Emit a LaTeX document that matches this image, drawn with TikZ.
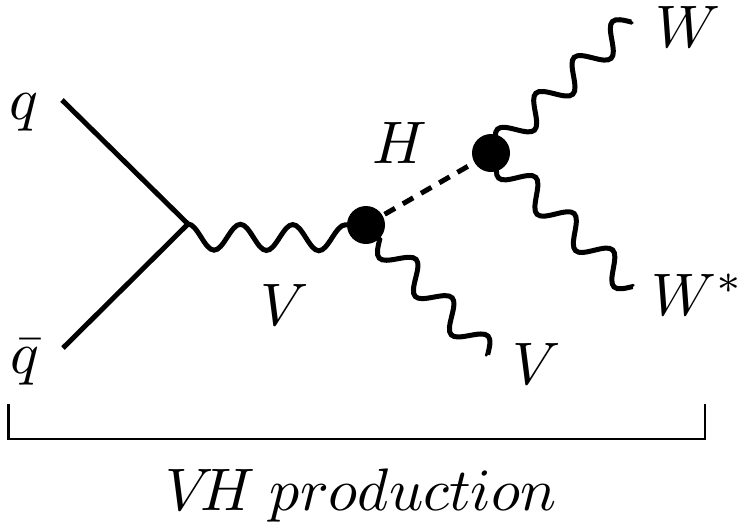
\documentclass[tikz,border=0pt]{standalone}
\usetikzlibrary{decorations}
% half-wave sine decoration: segment length = half wavelength, first lobe to the right of travel
\pgfdeclaredecoration{phothalf}{rgt}{
  \state{rgt}[width=\pgfdecorationsegmentlength, next state=lft]{
    \pgfpathcurveto{\pgfqpoint{0.1758\pgfdecorationsegmentlength}{-0.5523\pgfdecorationsegmentamplitude}}{\pgfqpoint{0.3242\pgfdecorationsegmentlength}{-\pgfdecorationsegmentamplitude}}{\pgfqpoint{0.5\pgfdecorationsegmentlength}{-\pgfdecorationsegmentamplitude}}
    \pgfpathcurveto{\pgfqpoint{0.6758\pgfdecorationsegmentlength}{-\pgfdecorationsegmentamplitude}}{\pgfqpoint{0.8242\pgfdecorationsegmentlength}{-0.5523\pgfdecorationsegmentamplitude}}{\pgfqpoint{\pgfdecorationsegmentlength}{0pt}}
  }
  \state{lft}[width=\pgfdecorationsegmentlength, next state=rgt]{
    \pgfpathcurveto{\pgfqpoint{0.1758\pgfdecorationsegmentlength}{0.5523\pgfdecorationsegmentamplitude}}{\pgfqpoint{0.3242\pgfdecorationsegmentlength}{\pgfdecorationsegmentamplitude}}{\pgfqpoint{0.5\pgfdecorationsegmentlength}{\pgfdecorationsegmentamplitude}}
    \pgfpathcurveto{\pgfqpoint{0.6758\pgfdecorationsegmentlength}{\pgfdecorationsegmentamplitude}}{\pgfqpoint{0.8242\pgfdecorationsegmentlength}{0.5523\pgfdecorationsegmentamplitude}}{\pgfqpoint{\pgfdecorationsegmentlength}{0pt}}
  }
  \state{final}{\pgfpathlineto{\pgfpointdecoratedpathlast}}
}
% one-sided cosine wave: starts at crest on the path, trough at -2*amplitude
\pgfdeclaredecoration{photcrest}{wave}{
  \state{wave}[width=\pgfdecorationsegmentlength]{
    \pgfpathcurveto{\pgfqpoint{0.0879\pgfdecorationsegmentlength}{0pt}}{\pgfqpoint{0.1621\pgfdecorationsegmentlength}{-0.4477\pgfdecorationsegmentamplitude}}{\pgfqpoint{0.25\pgfdecorationsegmentlength}{-\pgfdecorationsegmentamplitude}}
    \pgfpathcurveto{\pgfqpoint{0.3379\pgfdecorationsegmentlength}{-1.5523\pgfdecorationsegmentamplitude}}{\pgfqpoint{0.4121\pgfdecorationsegmentlength}{-2\pgfdecorationsegmentamplitude}}{\pgfqpoint{0.5\pgfdecorationsegmentlength}{-2\pgfdecorationsegmentamplitude}}
    \pgfpathcurveto{\pgfqpoint{0.5879\pgfdecorationsegmentlength}{-2\pgfdecorationsegmentamplitude}}{\pgfqpoint{0.6621\pgfdecorationsegmentlength}{-1.5523\pgfdecorationsegmentamplitude}}{\pgfqpoint{0.75\pgfdecorationsegmentlength}{-\pgfdecorationsegmentamplitude}}
    \pgfpathcurveto{\pgfqpoint{0.8379\pgfdecorationsegmentlength}{-0.4477\pgfdecorationsegmentamplitude}}{\pgfqpoint{0.9121\pgfdecorationsegmentlength}{0pt}}{\pgfqpoint{\pgfdecorationsegmentlength}{0pt}}
  }
  \state{final}{\pgfpathlineto{\pgfpointdecoratedpathlast}}
}
\newcommand{\biglab}[1]{\scalebox{3}{$#1$}}
\begin{document}
\begin{tikzpicture}[x=0.5pt,y=-0.5pt,line width=2.5pt,
  lab/.style={inner sep=0pt,anchor=base},
  blob/.style={circle,fill=black,minimum size=19pt,inner sep=0pt},
  fermion/.style={draw},
  wavy/.style={decorate,decoration={phothalf,amplitude=6.5pt}},
  crestwavy/.style={decorate,decoration={photcrest,amplitude=6.5pt}},
  higgs/.style={dash pattern=on 6pt off 4.5pt},
  brk/.style={line width=1.35pt}]
\useasboundingbox (0,0) rectangle (742,525);
% vertices and end points
\coordinate (qin) at (62,100);
\coordinate (qbarin) at (63,348);
\coordinate (v1) at (188,224);
\node[blob] (b1) at (366,225) {};
\node[blob] (b2) at (491,153) {};
\coordinate (vend) at (488,355);
\coordinate (wend) at (632,21);
\coordinate (wsend) at (633,287);
% fermions
\draw[fermion] (qin) -- (v1) -- (qbarin);
% photons
\draw[crestwavy,decoration={segment length=26.2pt}] (v1) -- (b1.center);
\draw[wavy,decoration={segment length=13.15pt,pre length=10pt}] (b1.center) -- (vend);
\draw[wavy,decoration={segment length=13.125pt,pre length=4pt,mirror}] (b2.center) -- (wend);
\draw[wavy,decoration={segment length=13.225pt,pre length=4.75pt}] (b2.center) -- (wsend);
% Higgs
\draw[higgs] (b1) -- (b2);
% labels
\node[lab] (qlab) at (23.5,119) {\biglab{q}};
\node[lab] (qbarlab) at (25,373) {\biglab{\bar q}};
\node[lab] (vlab) at (285,325) {\biglab{V}};
\node[lab] (hlab) at (400,163) {\biglab{H}};
\node[lab] (wlab) at (688,47) {\biglab{W}};
\node[lab] (wslab) at (698,315) {\biglab{W^*}};
\node[lab] (v2lab) at (537,384) {\biglab{V}};
% bracket
\coordinate (bl) at (8.5,404);
\coordinate (blb) at (8.5,439);
\coordinate (brb) at (705,439);
\coordinate (br) at (705,404);
\draw[brk] (bl) -- (blb) -- (brb) -- (br);
\node[lab] (title) at (361,510) {\biglab{V\kern-2.22pt H\kern-0.81pt\ production}};
\end{tikzpicture}
\end{document}
